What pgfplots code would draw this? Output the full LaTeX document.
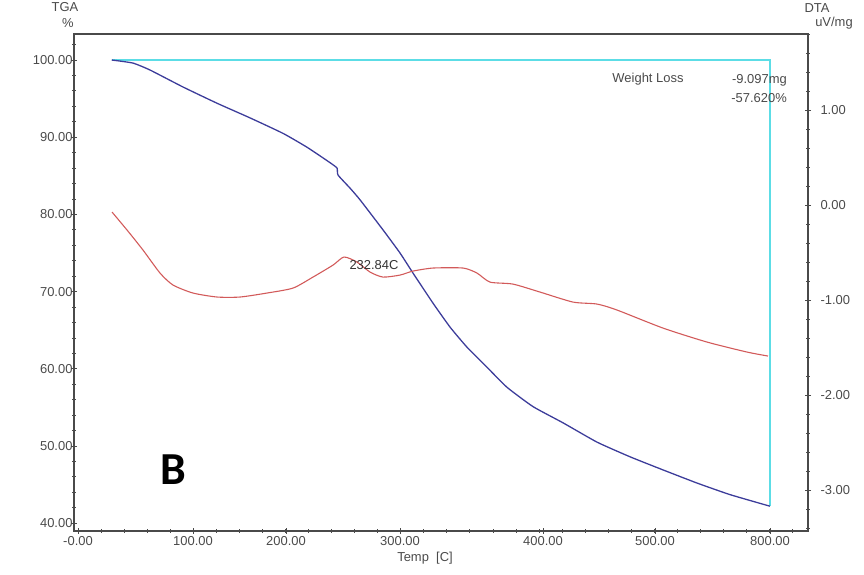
\documentclass[border=0pt]{standalone}
\usepackage{pgfplots}
\pgfplotsset{compat=1.18}
\usepackage{fontspec}
\setmainfont{Liberation Sans}
\newfontfamily\bfont{Carlito}

\definecolor{tgablue}{HTML}{3C3C9A}
\definecolor{dtared}{HTML}{D25A5A}
\definecolor{wlcyan}{HTML}{5CDDE6}
\definecolor{axgray}{HTML}{4A4A4A}
\definecolor{txtgray}{HTML}{4A4A4A}

% TGA (%) against temperature
\pgfplotstableread{
T v
15.3 100.0
37.4 99.6
55.1 98.7
89.4 96.5
124.7 94.4
159.0 92.5
193.2 90.5
218.2 88.7
242.1 86.7
249.4 86.0
250.4 85.1
262.9 83.4
273.2 81.9
297.1 78.0
314.8 75.0
328.3 72.4
349.1 68.5
366.8 65.4
384.4 62.8
405.2 60.2
426.0 57.6
453.0 55.1
484.2 53.0
519.5 50.5
553.8 48.6
588.1 46.9
623.4 45.2
657.7 43.7
699.2 42.2
}\tga

% DTA (uV/mg) against temperature
\pgfplotstableread{
T d
15.6 -0.074
31.2 -0.263
47.8 -0.474
65.5 -0.716
79.0 -0.842
99.7 -0.926
124.7 -0.968
148.6 -0.968
176.6 -0.926
203.6 -0.874
224.4 -0.758
245.2 -0.632
256.6 -0.547
270.1 -0.600
283.6 -0.705
297.1 -0.758
314.8 -0.737
328.3 -0.695
349.1 -0.663
380.3 -0.663
394.8 -0.716
408.3 -0.811
432.2 -0.832
460.3 -0.916
494.5 -1.021
519.5 -1.042
540.3 -1.105
588.1 -1.295
633.8 -1.442
675.3 -1.547
697.1 -1.589
}\dta

\begin{document}
\begin{tikzpicture}[x=1bp,y=1bp]
\path[use as bounding box] (0,0) rectangle (864,575);

\pgfplotsset{
  base/.style={
    at={(74bp,44bp)}, anchor=south west, scale only axis,
    width=734bp, height=497bp,
    xmin=-23.9, xmax=738.7,
    axis line style={axgray, line width=1.3pt},
    tick style={axgray, line width=0.8pt},
    major tick length=6bp, minor tick length=3.5bp,
    tick align=center,
    ticklabel style={font=\fontsize{13}{13}\selectfont, text=txtgray},
  }
}

\begin{axis}[base,
  ymin=38.99, ymax=103.37,
  xtick pos=bottom, ytick pos=left,
  xtick={-19.74,99.7,196.4,314.8,463.4,579.7,699.2},
  xticklabels={-0.00,100.00,200.00,300.00,400.00,500.00,800.00},
  minor xtick={-19.74,4.21,...,739},
  ytick={40,50,...,100},
  yticklabels={40.00,50.00,60.00,70.00,80.00,90.00,100.00},
  minor ytick={42,44,...,102},
  yticklabel style={xshift=5bp},
  xticklabel style={yshift=1bp},
]
\addplot[wlcyan, line width=1.8pt] coordinates {(15.3,100) (699.2,100) (699.2,42.2)};
\addplot[tgablue, line width=1.3pt, smooth, tension=0.3] table[x=T, y=v] {\tga};
\end{axis}

\begin{axis}[base,
  ymin=-3.43, ymax=1.8,
  axis x line=none, axis y line*=right,
  ytick={-3,-2,...,1},
  yticklabels={-3.00,-2.00,-1.00,0.00,1.00},
  minor ytick={-3.4,-3.2,...,1.7},
  yticklabel style={xshift=6bp},
]
\addplot[dtared, line width=1.1pt, smooth, tension=0.4] table[x=T, y=d] {\dta};
\end{axis}

\begin{scope}[every node/.style={font=\fontsize{13}{13}\selectfont, text=txtgray, inner sep=0pt}]
\node at (65,568) {TGA};
\node at (68,552) {\%};
\node at (817,567) {DTA};
\node at (834,552) {uV/mg};
\node at (425,17) {Temp\ \ [C]};
\node at (648,496) {Weight Loss};
\node[anchor=east] at (787,495) {-9.097mg};
\node[anchor=east] at (787,477) {-57.620\%};
\node[text=black!80] at (374,310) {232.84C};
\end{scope}
\node[font=\bfont\bfseries\fontsize{46}{46}\selectfont] at (173,105) {B};
\end{tikzpicture}
\end{document}
